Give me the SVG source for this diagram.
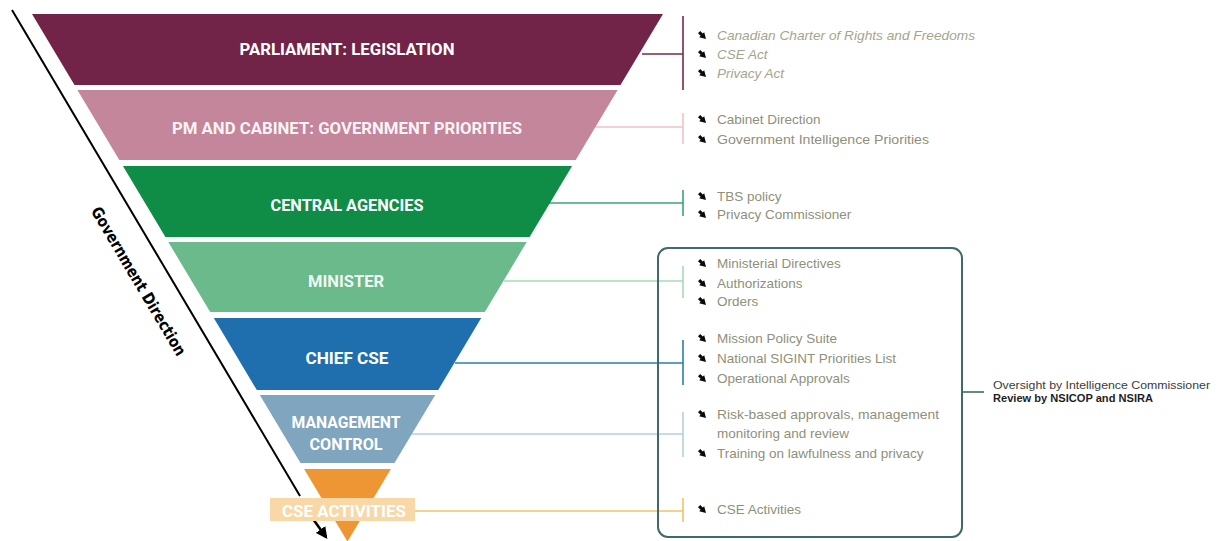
<svg xmlns="http://www.w3.org/2000/svg" width="1222" height="541" viewBox="0 0 1222 541">
  <style>
    .band-label { font-family: Roboto, "Liberation Sans", sans-serif; font-weight: 700; font-size: 16px; fill: #ffffff; text-anchor: middle; }
    .item { font-family: "Liberation Sans", Arial, sans-serif; font-size: 13.5px; fill: #8f907a; }
    .item-it { font-style: italic; fill: #a4a590; }
    .note { font-family: "Liberation Sans", Arial, sans-serif; font-size: 10px; fill: #1e1e1e; font-weight: 700; }
    .note-light { font-weight: 400; fill: #3c3c3c; }
    .axis { font-family: "DejaVu Sans Condensed", "DejaVu Sans", sans-serif; font-weight: 700; font-size: 16px; fill: #000000; }
    .conn { fill: none; stroke-width: 1.6; }
  </style>
  <defs>
    <symbol id="bullet" viewBox="0 0 8 8">
      <path d="M0 2.2 L2.2 0 L4.8 2.6 L6.2 1.2 L8 8 L1.2 6.2 L2.6 4.8 Z" fill="#0a0a0a"/>
    </symbol>
    <marker id="arrowhead" viewBox="0 0 10 10" refX="8" refY="5" markerWidth="4.5" markerHeight="4.5" orient="auto" markerUnits="strokeWidth">
      <path d="M0 0 L10 5 L0 10 Z" fill="#000000"/>
    </marker>
  </defs>

  <rect width="1222" height="541" fill="#ffffff"/>

  <!-- direction axis -->
  <g id="direction">
    <line x1="12" y1="10" x2="300" y2="496" stroke="#000000" stroke-width="2"/>
    <line x1="313" y1="519" x2="326" y2="537" stroke="#000000" stroke-width="2.6" marker-end="url(#arrowhead)"/>
    <text class="axis" transform="translate(139 281) rotate(59.3)" x="0" y="6" text-anchor="middle" textLength="170" lengthAdjust="spacingAndGlyphs">Government Direction</text>
  </g>

  <!-- connectors from each level to its bracket -->
  <g id="connectors">
    <path class="conn" stroke="#7a2a4e" d="M642 54 H683 M683 16 V90"/>
    <path class="conn" stroke="#eec2c8" d="M595 127 H683 M683 113 V144"/>
    <path class="conn" stroke="#3aa57a" d="M549 203 H683 M683 190 V216"/>
    <path class="conn" stroke="#a6dbb6" d="M504 281 H683 M683 266 V298"/>
    <path class="conn" stroke="#2a80aa" d="M455 363 H683 M683 340 V385"/>
    <path class="conn" stroke="#b4d0de" d="M412 434 H683 M683 412 V457"/>
    <path class="conn" stroke="#f3c462" d="M414 511 H683 M683 498 V522"/>
    <path class="conn" stroke="#3f6a6a" stroke-width="1.4" d="M962 392 H984"/>
  </g>

  <!-- pyramid levels -->
  <g id="level-parliament">
    <polygon points="32,14 663,14 620.5,85 74.5,85" fill="#722448"/>
    <text class="band-label" x="347" y="55" textLength="215" lengthAdjust="spacingAndGlyphs">PARLIAMENT: LEGISLATION</text>
  </g>
  <g id="level-cabinet">
    <polygon points="77.4,90 617.6,90 575.7,160 119.3,160" fill="#c4869a"/>
    <text class="band-label" x="347" y="134" textLength="350" lengthAdjust="spacingAndGlyphs" fill-opacity="0.92">PM AND CABINET: GOVERNMENT PRIORITIES</text>
  </g>
  <g id="level-central">
    <polygon points="122.9,166 572.1,166 529.6,237 165.4,237" fill="#0f8c45"/>
    <text class="band-label" x="347" y="211" textLength="153" lengthAdjust="spacingAndGlyphs">CENTRAL AGENCIES</text>
  </g>
  <g id="level-minister">
    <polygon points="168.3,242 526.7,242 484.8,312 210.2,312" fill="#6aba8c"/>
    <text class="band-label" x="346" y="287" textLength="76" lengthAdjust="spacingAndGlyphs" fill-opacity="0.92">MINISTER</text>
  </g>
  <g id="level-chief">
    <polygon points="213.8,318 481.2,318 438.2,390 256.8,390" fill="#1f6fae"/>
    <text class="band-label" x="347" y="364" textLength="83" lengthAdjust="spacingAndGlyphs">CHIEF CSE</text>
  </g>
  <g id="level-management">
    <polygon points="259.8,395 435.2,395 394.5,463 300.5,463" fill="#7fa5bf"/>
    <text class="band-label" x="346" y="428" textLength="109" lengthAdjust="spacingAndGlyphs">MANAGEMENT</text>
    <text class="band-label" x="346" y="450" textLength="73" lengthAdjust="spacingAndGlyphs">CONTROL</text>
  </g>
  <g id="level-activities">
    <polygon points="304.1,469 390.9,469 347.5,541.6" fill="#ee9633"/>
    <rect x="270" y="498" width="145" height="23" fill="#f7d8a6"/>
    <text class="band-label" x="344" y="517" textLength="124" lengthAdjust="spacingAndGlyphs" fill="#fdf1de">CSE ACTIVITIES</text>
  </g>

  <!-- oversight box -->
  <g id="oversight-box">
    <rect x="658" y="248" width="304" height="289" rx="10" ry="10" fill="none" stroke="#3f6a6a" stroke-width="2"/>
  </g>

  <g id="oversight-note">
    <text class="note note-light" x="993" y="389" textLength="217" lengthAdjust="spacingAndGlyphs">Oversight by Intelligence Commissioner</text>
    <text class="note" x="993" y="402" textLength="160" lengthAdjust="spacingAndGlyphs">Review by NSICOP and NSIRA</text>
  </g>

  <!-- instruments listed for each level -->
  <g id="list-parliament">
    <use href="#bullet" x="698" y="31" width="8" height="8"/>
    <text class="item item-it" x="717" y="40" textLength="258" lengthAdjust="spacingAndGlyphs">Canadian Charter of Rights and Freedoms</text>
    <use href="#bullet" x="698" y="50" width="8" height="8"/>
    <text class="item item-it" x="717" y="59">CSE Act</text>
    <use href="#bullet" x="698" y="69" width="8" height="8"/>
    <text class="item item-it" x="717" y="78">Privacy Act</text>
  </g>
  <g id="list-cabinet">
    <use href="#bullet" x="698" y="115" width="8" height="8"/>
    <text class="item" x="717" y="124">Cabinet Direction</text>
    <use href="#bullet" x="698" y="135" width="8" height="8"/>
    <text class="item" x="717" y="144" textLength="212" lengthAdjust="spacingAndGlyphs">Government Intelligence Priorities</text>
  </g>
  <g id="list-central">
    <use href="#bullet" x="698" y="192" width="8" height="8"/>
    <text class="item" x="717" y="201">TBS policy</text>
    <use href="#bullet" x="698" y="210" width="8" height="8"/>
    <text class="item" x="717" y="219">Privacy Commissioner</text>
  </g>
  <g id="list-minister">
    <use href="#bullet" x="698" y="259" width="8" height="8"/>
    <text class="item" x="717" y="268">Ministerial Directives</text>
    <use href="#bullet" x="698" y="279" width="8" height="8"/>
    <text class="item" x="717" y="288">Authorizations</text>
    <use href="#bullet" x="698" y="297" width="8" height="8"/>
    <text class="item" x="717" y="306">Orders</text>
  </g>
  <g id="list-chief">
    <use href="#bullet" x="698" y="334" width="8" height="8"/>
    <text class="item" x="717" y="343">Mission Policy Suite</text>
    <use href="#bullet" x="698" y="354" width="8" height="8"/>
    <text class="item" x="717" y="363">National SIGINT Priorities List</text>
    <use href="#bullet" x="698" y="374" width="8" height="8"/>
    <text class="item" x="717" y="383">Operational Approvals</text>
  </g>
  <g id="list-management">
    <use href="#bullet" x="698" y="410" width="8" height="8"/>
    <text class="item" x="717" y="419" textLength="222" lengthAdjust="spacingAndGlyphs">Risk-based approvals, management</text>
    <text class="item" x="717" y="438">monitoring and review</text>
    <use href="#bullet" x="698" y="449" width="8" height="8"/>
    <text class="item" x="717" y="458">Training on lawfulness and privacy</text>
  </g>
  <g id="list-activities">
    <use href="#bullet" x="698" y="505" width="8" height="8"/>
    <text class="item" x="717" y="514">CSE Activities</text>
  </g>
</svg>
